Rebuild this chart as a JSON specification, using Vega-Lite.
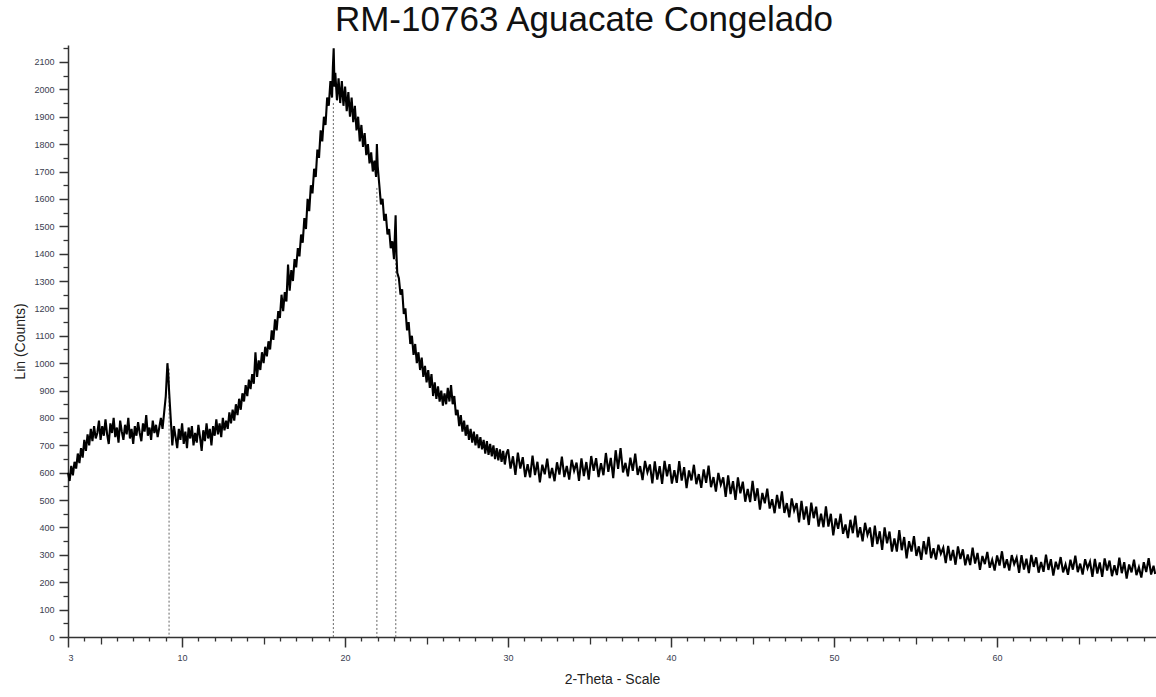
{
"$schema": "https://vega.github.io/schema/vega-lite/v6.json",
"width": 1088, "height": 592,
"autosize": {"type": "none"},
"padding": {"left": 68, "top": 45, "right": 0, "bottom": 60},
"background": "white",
"title": {"text": "RM-10763 Aguacate Congelado", "font": "Liberation Sans", "fontSize": 35, "fontWeight": "normal", "color": "#111111", "anchor": "middle", "dx": -28, "offset": 6},
"config": {"view": {"stroke": null}, "axis": {"grid": false, "labelFont": "Liberation Sans", "titleFont": "Liberation Sans", "domainColor": "#333333", "tickColor": "#333333", "labelColor": "#3a4050", "titleColor": "#222222", "titleFontWeight": "normal"}},
"datasets": {
"scan": [
{"x":3.0,"y":600},{"x":3.1,"y":570},{"x":3.2,"y":625},{"x":3.3,"y":590},{"x":3.4,"y":640},{"x":3.5,"y":615},{"x":3.6,"y":670},{"x":3.7,"y":635},{"x":3.8,"y":690},{"x":3.9,"y":655},
{"x":4.0,"y":720},{"x":4.1,"y":680},{"x":4.2,"y":740},{"x":4.3,"y":700},{"x":4.4,"y":760},{"x":4.5,"y":715},{"x":4.6,"y":770},{"x":4.7,"y":725},{"x":4.8,"y":745},{"x":4.9,"y":790},
{"x":5.0,"y":720},{"x":5.1,"y":770},{"x":5.2,"y":735},{"x":5.3,"y":795},{"x":5.4,"y":740},{"x":5.5,"y":705},{"x":5.6,"y":780},{"x":5.7,"y":745},{"x":5.8,"y":800},{"x":5.9,"y":730},
{"x":6.0,"y":765},{"x":6.1,"y":710},{"x":6.2,"y":790},{"x":6.3,"y":750},{"x":6.4,"y":720},{"x":6.5,"y":775},{"x":6.6,"y":740},{"x":6.7,"y":800},{"x":6.8,"y":725},{"x":6.9,"y":760},
{"x":7.0,"y":705},{"x":7.1,"y":770},{"x":7.2,"y":735},{"x":7.3,"y":785},{"x":7.4,"y":745},{"x":7.5,"y":715},{"x":7.6,"y":780},{"x":7.7,"y":750},{"x":7.8,"y":810},{"x":7.9,"y":735},
{"x":8.0,"y":765},{"x":8.1,"y":720},{"x":8.2,"y":790},{"x":8.3,"y":745},{"x":8.4,"y":775},{"x":8.5,"y":730},{"x":8.6,"y":765},{"x":8.7,"y":800},{"x":8.8,"y":760},{"x":8.9,"y":820},
{"x":9.0,"y":880},{"x":9.05,"y":940},{"x":9.1,"y":1000},{"x":9.15,"y":960},{"x":9.2,"y":900},{"x":9.3,"y":800},{"x":9.4,"y":700},{"x":9.5,"y":770},{"x":9.6,"y":730},{"x":9.7,"y":690},{"x":9.8,"y":760},{"x":9.9,"y":720},
{"x":10.0,"y":780},{"x":10.1,"y":705},{"x":10.2,"y":750},{"x":10.3,"y":690},{"x":10.4,"y":765},{"x":10.5,"y":725},{"x":10.6,"y":770},{"x":10.7,"y":700},{"x":10.8,"y":745},{"x":10.9,"y":710},
{"x":11.0,"y":775},{"x":11.1,"y":730},{"x":11.2,"y":680},{"x":11.3,"y":755},{"x":11.4,"y":715},{"x":11.5,"y":780},{"x":11.6,"y":725},{"x":11.7,"y":760},{"x":11.8,"y":700},{"x":11.9,"y":770},
{"x":12.0,"y":735},{"x":12.1,"y":795},{"x":12.2,"y":740},{"x":12.3,"y":780},{"x":12.4,"y":730},{"x":12.5,"y":800},{"x":12.6,"y":755},{"x":12.7,"y":790},{"x":12.8,"y":760},{"x":12.9,"y":820},
{"x":13.0,"y":780},{"x":13.1,"y":830},{"x":13.2,"y":790},{"x":13.3,"y":850},{"x":13.4,"y":810},{"x":13.5,"y":870},{"x":13.6,"y":830},{"x":13.7,"y":890},{"x":13.8,"y":860},{"x":13.9,"y":920},
{"x":14.0,"y":880},{"x":14.1,"y":940},{"x":14.2,"y":905},{"x":14.3,"y":960},{"x":14.4,"y":925},{"x":14.5,"y":1040},{"x":14.6,"y":950},{"x":14.7,"y":1010},{"x":14.8,"y":975},{"x":14.9,"y":1040},
{"x":15.0,"y":1000},{"x":15.1,"y":1060},{"x":15.2,"y":1025},{"x":15.3,"y":1080},{"x":15.4,"y":1050},{"x":15.5,"y":1120},{"x":15.6,"y":1085},{"x":15.7,"y":1160},{"x":15.8,"y":1120},{"x":15.9,"y":1190},
{"x":16.0,"y":1165},{"x":16.1,"y":1250},{"x":16.2,"y":1190},{"x":16.3,"y":1260},{"x":16.4,"y":1225},{"x":16.5,"y":1360},{"x":16.6,"y":1265},{"x":16.7,"y":1340},{"x":16.8,"y":1300},{"x":16.9,"y":1380},
{"x":17.0,"y":1350},{"x":17.1,"y":1420},{"x":17.2,"y":1390},{"x":17.3,"y":1470},{"x":17.4,"y":1440},{"x":17.5,"y":1530},{"x":17.6,"y":1490},{"x":17.7,"y":1600},{"x":17.8,"y":1555},{"x":17.9,"y":1650},
{"x":18.0,"y":1620},{"x":18.1,"y":1710},{"x":18.2,"y":1680},{"x":18.3,"y":1780},{"x":18.4,"y":1750},{"x":18.5,"y":1850},{"x":18.6,"y":1810},{"x":18.7,"y":1900},{"x":18.8,"y":1870},{"x":18.9,"y":1970},
{"x":19.0,"y":1940},{"x":19.1,"y":2030},{"x":19.2,"y":1970},{"x":19.25,"y":2080},{"x":19.3,"y":2150},{"x":19.35,"y":2010},{"x":19.4,"y":2060},{"x":19.5,"y":1960},{"x":19.6,"y":2040},{"x":19.7,"y":1950},{"x":19.8,"y":2030},{"x":19.9,"y":1940},
{"x":20.0,"y":2010},{"x":20.1,"y":1920},{"x":20.2,"y":1990},{"x":20.3,"y":1900},{"x":20.4,"y":1970},{"x":20.5,"y":1880},{"x":20.6,"y":1940},{"x":20.7,"y":1850},{"x":20.8,"y":1900},{"x":20.9,"y":1810},
{"x":21.0,"y":1870},{"x":21.1,"y":1790},{"x":21.2,"y":1840},{"x":21.3,"y":1760},{"x":21.4,"y":1800},{"x":21.5,"y":1730},{"x":21.6,"y":1770},{"x":21.7,"y":1700},{"x":21.8,"y":1740},{"x":21.9,"y":1680},{"x":21.95,"y":1800},
{"x":22.0,"y":1720},{"x":22.1,"y":1650},{"x":22.2,"y":1580},{"x":22.3,"y":1600},{"x":22.4,"y":1520},{"x":22.5,"y":1545},{"x":22.6,"y":1470},{"x":22.7,"y":1490},{"x":22.8,"y":1420},{"x":22.9,"y":1445},
{"x":23.0,"y":1380},{"x":23.05,"y":1460},{"x":23.1,"y":1540},{"x":23.15,"y":1400},{"x":23.2,"y":1330},{"x":23.3,"y":1310},{"x":23.4,"y":1250},{"x":23.5,"y":1270},{"x":23.6,"y":1180},{"x":23.7,"y":1200},{"x":23.8,"y":1120},{"x":23.9,"y":1150},
{"x":24.0,"y":1070},{"x":24.1,"y":1100},{"x":24.2,"y":1030},{"x":24.3,"y":1070},{"x":24.4,"y":1000},{"x":24.5,"y":1040},{"x":24.6,"y":975},{"x":24.7,"y":1020},{"x":24.8,"y":950},{"x":24.9,"y":990},
{"x":25.0,"y":930},{"x":25.1,"y":975},{"x":25.2,"y":910},{"x":25.3,"y":960},{"x":25.4,"y":880},{"x":25.5,"y":930},{"x":25.6,"y":870},{"x":25.7,"y":915},{"x":25.8,"y":860},{"x":25.9,"y":900},
{"x":26.0,"y":845},{"x":26.1,"y":890},{"x":26.2,"y":850},{"x":26.3,"y":910},{"x":26.4,"y":860},{"x":26.5,"y":920},{"x":26.6,"y":850},{"x":26.7,"y":880},{"x":26.8,"y":810},{"x":26.9,"y":830},
{"x":27.0,"y":770},{"x":27.1,"y":810},{"x":27.2,"y":750},{"x":27.3,"y":790},{"x":27.4,"y":735},{"x":27.5,"y":775},{"x":27.6,"y":720},{"x":27.7,"y":760},{"x":27.8,"y":710},{"x":27.9,"y":750},
{"x":28.0,"y":700},{"x":28.1,"y":740},{"x":28.2,"y":690},{"x":28.3,"y":730},{"x":28.4,"y":685},{"x":28.5,"y":720},{"x":28.6,"y":670},{"x":28.7,"y":715},{"x":28.8,"y":665},{"x":28.9,"y":705},
{"x":29.0,"y":660},{"x":29.1,"y":700},{"x":29.2,"y":650},{"x":29.3,"y":690},{"x":29.4,"y":645},{"x":29.5,"y":685},{"x":29.6,"y":640},{"x":29.7,"y":680},{"x":29.8,"y":630},{"x":29.9,"y":670},
{"x":30.0,"y":685},{"x":30.15,"y":615},{"x":30.3,"y":660},{"x":30.45,"y":592},{"x":30.6,"y":673},{"x":30.75,"y":615},{"x":30.9,"y":657},{"x":31.05,"y":584},{"x":31.2,"y":631},{"x":31.35,"y":583},
{"x":31.5,"y":662},{"x":31.65,"y":591},{"x":31.8,"y":640},{"x":31.95,"y":565},{"x":32.1,"y":629},{"x":32.25,"y":594},{"x":32.4,"y":651},{"x":32.55,"y":580},{"x":32.7,"y":617},{"x":32.85,"y":569},
{"x":33.0,"y":638},{"x":33.15,"y":593},{"x":33.3,"y":659},{"x":33.45,"y":584},{"x":33.6,"y":625},{"x":33.75,"y":575},{"x":33.9,"y":647},{"x":34.05,"y":607},{"x":34.2,"y":637},{"x":34.35,"y":570},
{"x":34.5,"y":652},{"x":34.65,"y":588},{"x":34.8,"y":639},{"x":34.95,"y":575},{"x":35.1,"y":661},{"x":35.25,"y":607},{"x":35.4,"y":653},{"x":35.55,"y":584},{"x":35.7,"y":635},{"x":35.85,"y":591},
{"x":36.0,"y":672},{"x":36.15,"y":603},{"x":36.3,"y":654},{"x":36.45,"y":580},{"x":36.6,"y":682},{"x":36.75,"y":614},{"x":36.9,"y":690},{"x":37.05,"y":601},{"x":37.2,"y":636},{"x":37.35,"y":587},
{"x":37.5,"y":655},{"x":37.65,"y":607},{"x":37.8,"y":670},{"x":37.95,"y":592},{"x":38.1,"y":624},{"x":38.25,"y":573},{"x":38.4,"y":643},{"x":38.55,"y":601},{"x":38.7,"y":630},{"x":38.85,"y":561},
{"x":39.0,"y":641},{"x":39.15,"y":575},{"x":39.3,"y":624},{"x":39.45,"y":559},{"x":39.6,"y":643},{"x":39.75,"y":587},{"x":39.9,"y":631},{"x":40.05,"y":560},{"x":40.2,"y":609},{"x":40.35,"y":563},
{"x":40.5,"y":642},{"x":40.65,"y":571},{"x":40.8,"y":620},{"x":40.95,"y":544},{"x":41.1,"y":608},{"x":41.25,"y":572},{"x":41.4,"y":629},{"x":41.55,"y":558},{"x":41.7,"y":595},{"x":41.85,"y":545},
{"x":42.0,"y":612},{"x":42.15,"y":563},{"x":42.3,"y":626},{"x":42.45,"y":547},{"x":42.6,"y":584},{"x":42.75,"y":531},{"x":42.9,"y":599},{"x":43.05,"y":556},{"x":43.2,"y":583},{"x":43.35,"y":512},
{"x":43.5,"y":590},{"x":43.65,"y":522},{"x":43.8,"y":569},{"x":43.95,"y":501},{"x":44.1,"y":583},{"x":44.25,"y":525},{"x":44.4,"y":567},{"x":44.55,"y":494},{"x":44.7,"y":541},{"x":44.85,"y":493},
{"x":45.0,"y":570},{"x":45.15,"y":497},{"x":45.3,"y":543},{"x":45.45,"y":465},{"x":45.6,"y":526},{"x":45.75,"y":488},{"x":45.9,"y":542},{"x":46.05,"y":469},{"x":46.2,"y":503},{"x":46.35,"y":452},
{"x":46.5,"y":519},{"x":46.65,"y":469},{"x":46.8,"y":532},{"x":46.95,"y":453},{"x":47.1,"y":489},{"x":47.25,"y":437},{"x":47.4,"y":506},{"x":47.55,"y":462},{"x":47.7,"y":489},{"x":47.85,"y":419},
{"x":48.0,"y":497},{"x":48.15,"y":429},{"x":48.3,"y":477},{"x":48.45,"y":409},{"x":48.6,"y":491},{"x":48.75,"y":434},{"x":48.9,"y":476},{"x":49.05,"y":403},{"x":49.2,"y":450},{"x":49.35,"y":401},
{"x":49.5,"y":477},{"x":49.65,"y":403},{"x":49.8,"y":450},{"x":49.95,"y":371},{"x":50.1,"y":433},{"x":50.25,"y":395},{"x":50.4,"y":450},{"x":50.55,"y":377},{"x":50.7,"y":411},{"x":50.85,"y":361},
{"x":51.0,"y":428},{"x":51.15,"y":379},{"x":51.3,"y":443},{"x":51.45,"y":364},{"x":51.6,"y":401},{"x":51.75,"y":349},{"x":51.9,"y":417},{"x":52.05,"y":373},{"x":52.2,"y":400},{"x":52.35,"y":329},
{"x":52.5,"y":407},{"x":52.65,"y":339},{"x":52.8,"y":386},{"x":52.95,"y":318},{"x":53.1,"y":400},{"x":53.25,"y":342},{"x":53.4,"y":385},{"x":53.55,"y":312},{"x":53.7,"y":360},{"x":53.85,"y":312},
{"x":54.0,"y":390},{"x":54.15,"y":317},{"x":54.3,"y":365},{"x":54.45,"y":287},{"x":54.6,"y":350},{"x":54.75,"y":312},{"x":54.9,"y":368},{"x":55.05,"y":296},{"x":55.2,"y":331},{"x":55.35,"y":282},
{"x":55.5,"y":350},{"x":55.65,"y":302},{"x":55.8,"y":366},{"x":55.95,"y":288},{"x":56.1,"y":324},{"x":56.25,"y":283},{"x":56.4,"y":337},{"x":56.55,"y":304},{"x":56.7,"y":326},{"x":56.85,"y":270},
{"x":57.0,"y":333},{"x":57.15,"y":279},{"x":57.3,"y":318},{"x":57.45,"y":264},{"x":57.6,"y":331},{"x":57.75,"y":285},{"x":57.9,"y":320},{"x":58.05,"y":262},{"x":58.2,"y":301},{"x":58.35,"y":263},
{"x":58.5,"y":326},{"x":58.65,"y":268},{"x":58.8,"y":307},{"x":58.95,"y":245},{"x":59.1,"y":296},{"x":59.25,"y":266},{"x":59.4,"y":311},{"x":59.55,"y":253},{"x":59.7,"y":282},{"x":59.85,"y":243},
{"x":60.0,"y":298},{"x":60.15,"y":261},{"x":60.3,"y":313},{"x":60.45,"y":252},{"x":60.6,"y":284},{"x":60.75,"y":243},{"x":60.9,"y":299},{"x":61.05,"y":266},{"x":61.2,"y":290},{"x":61.35,"y":234},
{"x":61.5,"y":299},{"x":61.65,"y":246},{"x":61.8,"y":286},{"x":61.95,"y":233},{"x":62.1,"y":300},{"x":62.25,"y":256},{"x":62.4,"y":291},{"x":62.55,"y":235},{"x":62.7,"y":274},{"x":62.85,"y":238},
{"x":63.0,"y":301},{"x":63.15,"y":245},{"x":63.3,"y":284},{"x":63.45,"y":224},{"x":63.6,"y":275},{"x":63.75,"y":247},{"x":63.9,"y":292},{"x":64.05,"y":236},{"x":64.2,"y":265},{"x":64.35,"y":227},
{"x":64.5,"y":282},{"x":64.65,"y":246},{"x":64.8,"y":297},{"x":64.95,"y":237},{"x":65.1,"y":268},{"x":65.25,"y":228},{"x":65.4,"y":284},{"x":65.55,"y":251},{"x":65.7,"y":275},{"x":65.85,"y":220},
{"x":66.0,"y":285},{"x":66.15,"y":232},{"x":66.3,"y":272},{"x":66.45,"y":220},{"x":66.6,"y":287},{"x":66.75,"y":243},{"x":66.9,"y":279},{"x":67.05,"y":222},{"x":67.2,"y":262},{"x":67.35,"y":226},
{"x":67.5,"y":290},{"x":67.65,"y":233},{"x":67.8,"y":273},{"x":67.95,"y":213},{"x":68.1,"y":265},{"x":68.25,"y":236},{"x":68.4,"y":282},{"x":68.55,"y":226},{"x":68.7,"y":255},{"x":68.85,"y":217},
{"x":69.0,"y":273},{"x":69.15,"y":237},{"x":69.3,"y":288},{"x":69.45,"y":228},{"x":69.6,"y":260},{"x":69.7,"y":230}
],
"refs": [
{"x":9.2,"top":980},{"x":19.28,"top":1950},{"x":21.95,"top":1640},{"x":23.11,"top":1380}
]
},
"layer": [
{
"data": {"name": "refs"},
"mark": {"type": "rule", "strokeDash": [2, 2], "color": "#666666", "strokeWidth": 1},
"encoding": {
"x": {"field": "x", "type": "quantitative", "scale": {"domain": [3, 69.75], "nice": false, "zero": false},
"axis": {"orient": "bottom", "values": [3,10,20,30,40,50,60], "title": "2-Theta - Scale", "titleFontSize": 14, "titlePadding": 10, "labelFontSize": 9, "tickSize": 10, "tickWidth": 1.5, "domainWidth": 1.5, "labelPadding": 6, "format": "d"}},
"y": {"field": "top", "type": "quantitative", "scale": {"domain": [0, 2162], "nice": false},
"axis": {"orient": "left", "values": [0,100,200,300,400,500,600,700,800,900,1000,1100,1200,1300,1400,1500,1600,1700,1800,1900,2000,2100], "title": "Lin (Counts)", "titleFontSize": 14, "titlePadding": 6, "labelFontSize": 9, "tickSize": 9, "tickWidth": 1.5, "domainWidth": 1.5, "labelPadding": 5, "format": "d"}},
"y2": {"datum": 0}
}
},
{
"data": {"name": "scan"},
"mark": {"type": "line", "color": "#000000", "strokeWidth": 2.1},
"encoding": {
"x": {"field": "x", "type": "quantitative", "axis": {"orient": "bottom", "values": [4,6,7,8,9,11,12,13,14,16,17,18,19,21,22,23,24,26,27,28,29,31,32,33,34,36,37,38,39,41,42,43,44,46,47,48,49,51,52,53,54,56,57,58,59,61,62,63,64,66,67,68,69], "labels": false, "title": null, "tickSize": 4, "tickWidth": 1.3, "domain": false}},
"y": {"field": "y", "type": "quantitative", "axis": {"orient": "left", "values": [50,150,250,350,450,550,650,750,850,950,1050,1150,1250,1350,1450,1550,1650,1750,1850,1950,2050,2150], "labels": false, "title": null, "tickSize": 5, "tickWidth": 1.3, "domain": false}}
}
},
{
"mark": {"type": "point", "shape": "triangle-up", "filled": true, "color": "#111111", "size": 30},
"encoding": {
"x": {"datum": 3, "type": "quantitative", "axis": {"orient": "bottom", "values": [5,15,25,35,45,55,65], "labels": false, "title": null, "tickSize": 7, "tickWidth": 1.3, "domain": false}},
"y": {"datum": 2162, "type": "quantitative", "axis": null}
}
},
{
"mark": {"type": "point", "shape": "triangle-right", "filled": true, "color": "#111111", "size": 30},
"encoding": {
"x": {"datum": 69.75, "type": "quantitative", "axis": null},
"y": {"datum": 0, "type": "quantitative", "axis": null}
}
}
],
"resolve": {"axis": {"x": "independent", "y": "independent"}}
}
